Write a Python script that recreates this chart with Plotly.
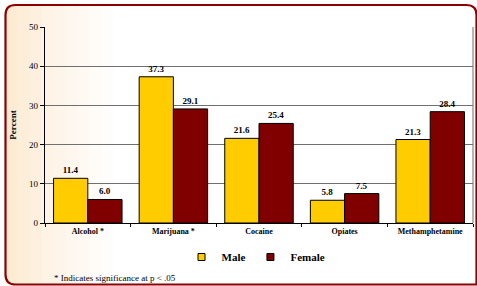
import plotly.graph_objects as go

categories = ["Alcohol *", "Marijuana *", "Cocaine", "Opiates", "Methamphetamine"]
male = [11.4, 37.3, 21.6, 5.8, 21.3]
female = [6.0, 29.1, 25.4, 7.5, 28.4]
y_ticks = [0, 10, 20, 30, 40, 50]

W, H = 477, 286
ML, MR, MT, MB = 45, 4, 27, 63
PW, PH = W - ML - MR, H - MT - MB

serif = "Liberation Serif"
MALE_C, FEMALE_C = "#FFCC00", "#800000"
lbl_font = dict(family=serif, size=9, color="#000000")

fig = go.Figure()
fig.add_trace(go.Bar(name="Male", x=categories, y=male, showlegend=False,
                     marker=dict(color=MALE_C, line=dict(color="#000000", width=1)),
                     text=[f"{v:.1f}" for v in male], texttemplate="<b>%{text}</b>", textposition="outside",
                     cliponaxis=False, textfont=lbl_font, outsidetextfont=lbl_font))
fig.add_trace(go.Bar(name="Female", x=categories, y=female, showlegend=False,
                     marker=dict(color=FEMALE_C, line=dict(color="#000000", width=1)),
                     text=[f"{v:.1f}" for v in female], texttemplate="<b>%{text}</b>", textposition="outside",
                     cliponaxis=False, textfont=lbl_font, outsidetextfont=lbl_font))
# legend entries
for nm, c in [("Male", MALE_C), ("Female", FEMALE_C)]:
    fig.add_trace(go.Scatter(x=[None], y=[None], mode="markers", name=f"<b>{nm}</b>",
                             marker=dict(symbol="square", size=7, color=c, line=dict(color="#000000", width=1))))


def px(x):
    return (x - ML) / PW


def py(y):
    return (H - MB - y) / PH


shapes = []
# background gradient strips (cream fading to white)
cols = ["#FDEBD3", "#FDEED9", "#FDF0DF", "#FEF3E5", "#FEF5EA", "#FEF7EF", "#FFF9F3", "#FFFBF7", "#FFFDFB"]
step = 12
for i, c in enumerate(cols):
    shapes.append(dict(type="rect", xref="paper", yref="paper", x0=px(6 + i * step), x1=px(6 + (i + 1) * step),
                       y0=py(284), y1=py(6), fillcolor=c, line=dict(width=0), layer="below"))

# rounded frame
r = 10
x0, x1, y0, y1 = 5.5, 476.5, 5, 284.5
path = (f"M {px(x0)},{py(y0 + r)} Q {px(x0)},{py(y0)} {px(x0 + r)},{py(y0)} "
        f"L {px(x1 - r)},{py(y0)} Q {px(x1)},{py(y0)} {px(x1)},{py(y0 + r)} "
        f"L {px(x1)},{py(y1)} L {px(x0 + r)},{py(y1)} Q {px(x0)},{py(y1)} {px(x0)},{py(y1 - r)} Z")
shapes.append(dict(type="path", xref="paper", yref="paper", path=path, line=dict(color="#8B0000", width=2.2),
                   fillcolor="rgba(0,0,0,0)", layer="above"))
# right border of plot area (gray)
shapes.append(dict(type="line", xref="x domain", yref="y domain", x0=1, x1=1, y0=0, y1=1,
                   line=dict(color="#909090", width=1.3), layer="below"))

fig.update_layout(
    width=W, height=H,
    margin=dict(l=ML, r=MR, t=MT, b=MB, autoexpand=False),
    paper_bgcolor="#FFFFFF",
    plot_bgcolor="#FFFFFF",
    barmode="group", bargap=0.2, bargroupgap=0,
    showlegend=True,
    legend=dict(orientation="h", x=px(256), xanchor="center", xref="paper", y=py(257), yref="paper",
                yanchor="middle", font=dict(family=serif, size=11, color="#000000"), itemwidth=30,
                traceorder="normal", bgcolor="rgba(0,0,0,0)", tracegroupgap=0, itemsizing="trace"),
    font=dict(family=serif, color="#000000"),
    shapes=shapes,
    annotations=[dict(text="* Indicates significance at p < .05", xref="paper", yref="paper", x=px(52), y=py(278),
                      xanchor="left", yanchor="middle", showarrow=False,
                      font=dict(family=serif, size=9, color="#000000"))],
)
fig.update_xaxes(showline=True, linecolor="#000000", linewidth=1.3, ticks="outside", tickson="boundaries",
                 ticklen=3, tickcolor="#000000", tickfont=dict(family=serif, size=8, color="#000000"),
                 showgrid=False, tickprefix="<b>", ticksuffix="</b>")
fig.update_yaxes(range=[0, 50], tickvals=y_ticks, showline=True, linecolor="#000000", linewidth=1.3,
                 ticks="outside", ticklen=4, tickcolor="#000000", showgrid=True, gridcolor="#707070", gridwidth=1.2,
                 tickfont=dict(family=serif, size=9, color="#000000"), tickprefix="<b>", ticksuffix="</b>",
                 title=dict(text="<b>Percent</b>", font=dict(family=serif, size=9, color="#000000"), standoff=10),
                 zeroline=False)

fig.write_html("out.html", config={"displayModeBar": False},
               post_script="document.body.style.margin='0';document.body.style.padding='0';")
